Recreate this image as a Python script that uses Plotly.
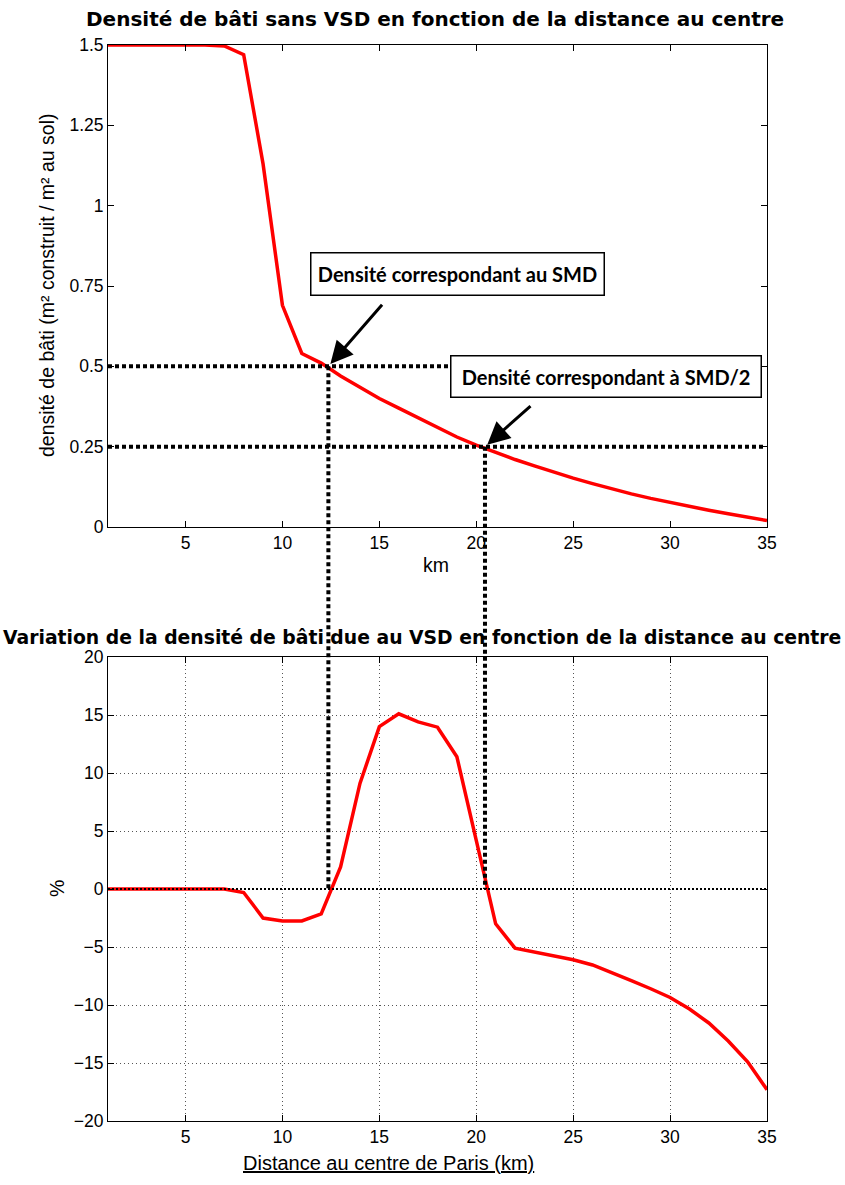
import plotly.graph_objects as go

# ---- data ----
km = list(range(1, 36))
density = [1.5, 1.5, 1.5, 1.5, 1.5, 1.5, 1.497, 1.47, 1.13, 0.69,
           0.54, 0.51, 0.47, 0.435, 0.40, 0.37, 0.34, 0.31, 0.28, 0.255,
           0.232, 0.21, 0.19, 0.17, 0.152, 0.135, 0.118, 0.103, 0.089, 0.076,
           0.064, 0.052, 0.041, 0.031, 0.02]
variation = [0, 0, 0, 0, 0, 0, 0, -0.3, -2.5, -2.75,
             -2.75, -2.15, 1.9, 9.1, 14.0, 15.1, 14.4, 13.95, 11.4, 4.2,
             -3.0, -5.1, -5.45, -5.75, -6.1, -6.55, -7.2, -7.9, -8.6, -9.35,
             -10.35, -11.55, -13.1, -14.9, -17.3]
smd_km = 12.37        # distance where density = SMD
smd_half_km = 20.45   # distance where density = SMD/2
smd_level = 0.5
smd_half_level = 0.25

top_xticks = [5, 10, 15, 20, 25, 30, 35]
top_yticks = [0, 0.25, 0.5, 0.75, 1, 1.25, 1.5]
bot_yticks = [-20, -15, -10, -5, 0, 5, 10, 15, 20]

W, H = 845, 1185
L, R, T, B = 108, 767, 45, 1121
def pxx(p):
    return (p - L) / (R - L)
def pxy(p):
    return (B - p) / (B - T)

top_dom = [pxy(527), 1.0]
bot_dom = [0.0, pxy(657)]
top_range = [0, 1.5]
bot_range = [-20, 20]

def paper_top(v):
    return top_dom[0] + (v - top_range[0]) / (top_range[1] - top_range[0]) * (top_dom[1] - top_dom[0])
def paper_bot(v):
    return bot_dom[0] + (v - bot_range[0]) / (bot_range[1] - bot_range[0]) * (bot_dom[1] - bot_dom[0])

fig = go.Figure()
fig.add_trace(go.Scatter(x=km, y=density, mode="lines", line=dict(color="#ff0000", width=3.5),
                         xaxis="x", yaxis="y", showlegend=False, hoverinfo="skip"))
fig.add_trace(go.Scatter(x=km, y=variation, mode="lines", line=dict(color="#ff0000", width=3.5),
                         xaxis="x2", yaxis="y2", showlegend=False, hoverinfo="skip"))

tickfont = dict(family="Liberation Sans, Arial, sans-serif", size=17.5, color="black")
labfont = dict(family="Liberation Sans, Arial, sans-serif", size=19.5, color="black")
common = dict(showline=True, linecolor="black", linewidth=1, mirror="ticks", ticks="inside",
              ticklen=6, tickcolor="black", tickfont=tickfont, zeroline=False)

fig.update_layout(
    width=W, height=H,
    margin=dict(l=L, r=W - R, t=T, b=H - B, autoexpand=False),
    paper_bgcolor="white", plot_bgcolor="white",
    xaxis=dict(domain=[0, 1], anchor="y", range=[1, 35], tickvals=top_xticks,
               showgrid=False, **common),
    yaxis=dict(domain=top_dom, anchor="x", range=top_range, tickvals=top_yticks,
               showgrid=False, **common),
    xaxis2=dict(domain=[0, 1], anchor="y2", range=[1, 35], tickvals=top_xticks,
                showgrid=True, gridcolor="#555555", griddash="1px,3px", gridwidth=1, **common),
    yaxis2=dict(domain=bot_dom, anchor="x2", range=bot_range, tickvals=bot_yticks,
                showgrid=True, gridcolor="#555555", griddash="1px,3px", gridwidth=1, **common),
)

shapes = []
dotline = dict(color="black", width=4, dash="4px,3px")
# zero line of bottom chart
shapes.append(dict(type="line", xref="x2", yref="y2", x0=1, x1=35, y0=0, y1=0,
                   line=dict(color="black", width=2, dash="2px,2px")))
# horizontal dotted lines (top chart)
shapes.append(dict(type="line", xref="x", yref="y", x0=1, x1=25, y0=smd_level, y1=smd_level, line=dotline))
shapes.append(dict(type="line", xref="x", yref="y", x0=1, x1=34.8, y0=smd_half_level, y1=smd_half_level, line=dotline))
# vertical dotted lines spanning both charts
shapes.append(dict(type="line", xref="x", yref="paper", x0=smd_km, x1=smd_km,
                   y0=paper_top(smd_level), y1=paper_bot(0), line=dotline))
shapes.append(dict(type="line", xref="x", yref="paper", x0=smd_half_km, x1=smd_half_km,
                   y0=paper_top(smd_half_level), y1=paper_bot(0), line=dotline))
fig.update_layout(shapes=shapes)

titlefont = dict(family="DejaVu Sans, sans-serif", size=20, color="black")
boxfont = dict(family="Lato, sans-serif", size=20, color="black")
ann = []
ann.append(dict(text="<b>Densité de bâti sans VSD en fonction de la distance au centre</b>",
                xref="paper", yref="paper", x=pxx(435), y=pxy(19), xanchor="center", yanchor="middle",
                showarrow=False, font=titlefont))
ann.append(dict(text="<b>Variation de la densité de bâti due au VSD en fonction de la distance au centre</b>",
                xref="paper", yref="paper", x=pxx(422), y=pxy(637), xanchor="center", yanchor="middle",
                showarrow=False, font=dict(titlefont, size=18.8)))
ann.append(dict(text="densité de bâti (m² construit / m² au sol)", xref="paper", yref="paper",
                x=pxx(47), y=pxy(285), xanchor="center", yanchor="middle", showarrow=False,
                textangle=-90, font=labfont))
ann.append(dict(text="km", xref="paper", yref="paper", x=pxx(436), y=pxy(565), xanchor="center",
                yanchor="middle", showarrow=False, font=labfont))
ann.append(dict(text="%", xref="paper", yref="paper", x=pxx(57), y=pxy(889), xanchor="center",
                yanchor="middle", showarrow=False, textangle=-90, font=labfont))
ann.append(dict(text="<u>Distance au centre de Paris (km)</u>", xref="paper", yref="paper",
                x=pxx(388), y=pxy(1163), xanchor="center", yanchor="middle", showarrow=False,
                font=dict(labfont, size=20)))
# arrows
ann.append(dict(text="", x=smd_km, y=smd_level, xref="x", yref="y", showarrow=True,
                ax=55, ay=-63, arrowhead=2, arrowsize=1.5, arrowwidth=3, arrowcolor="black", standoff=3))
ann.append(dict(text="", x=smd_half_km, y=smd_half_level, xref="x", yref="y", showarrow=True,
                ax=47, ay=-42, arrowhead=2, arrowsize=1.5, arrowwidth=3, arrowcolor="black", standoff=3))
# text boxes
ann.append(dict(text="<b>Densité correspondant au SMD</b>", xref="paper", yref="paper",
                x=pxx(457.5), y=pxy(274), xanchor="center", yanchor="middle", showarrow=False,
                font=boxfont, bgcolor="white", bordercolor="black", borderwidth=1.5, borderpad=0,
                width=292, height=41))
ann.append(dict(text="<b>Densité correspondant à SMD/2</b>", xref="paper", yref="paper",
                x=pxx(606), y=pxy(376.5), xanchor="center", yanchor="middle", showarrow=False,
                font=boxfont, bgcolor="white", bordercolor="black", borderwidth=1.5, borderpad=0,
                width=309, height=40))
fig.update_layout(annotations=ann)

fig.write_html("out.html", config={"displayModeBar": False},
               post_script="document.body.style.margin='0';")
